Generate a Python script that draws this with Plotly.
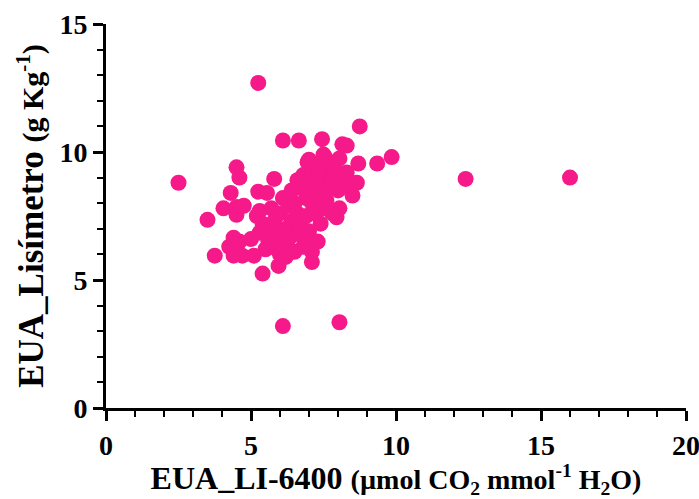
import plotly.graph_objects as go

# EUA_LI-6400 (x) vs EUA_Lisímetro (y)
eua_li6400 = [
    2.5, 3.5, 3.75, 4.25, 4.4, 4.4, 4.6, 4.05, 4.3, 4.5, 4.6, 4.5, 4.5, 4.75, 4.7,
    5.0, 5.1, 5.25, 5.3, 5.4, 5.55, 5.8, 5.95, 6.1, 8.05, 5.25, 6.1, 6.65, 7.45,
    8.15, 8.3, 8.75, 9.85, 9.35, 8.7, 8.65, 8.5, 8.05, 7.95, 7.4, 7.1, 7.1, 6.8,
    6.95, 7.55, 8.05, 6.6, 12.4, 16.0,
    5.2, 5.4, 5.5, 5.6, 5.7, 5.8, 5.9, 5.9, 6.0, 6.1, 6.1, 6.2, 6.3, 6.3, 6.4,
    6.4, 6.5, 6.5, 6.6, 6.6, 6.7, 6.7, 6.8, 6.8, 6.9, 6.9, 7.0, 7.0, 7.1, 7.1,
    7.2, 7.2, 7.3, 7.3, 7.4, 7.4, 7.5, 7.5, 7.6, 7.6, 7.7, 7.7, 7.8, 7.8, 7.9,
    8.0, 8.0, 8.2, 8.3, 6.0, 5.5, 5.3, 6.2, 6.9, 7.5, 7.0,
]
eua_lisimetro = [
    8.8, 7.35, 5.95, 6.3, 6.65, 5.95, 6.5, 7.8, 8.4, 9.4, 9.0, 7.85, 7.55, 7.9, 5.95,
    6.6, 5.95, 8.45, 6.85, 5.25, 8.4, 8.95, 5.55, 3.2, 3.35, 12.7, 10.45, 10.45, 10.5,
    10.3, 10.25, 11.0, 9.8, 9.55, 9.55, 8.8, 8.3, 7.8, 7.45, 7.2, 6.1, 5.7, 6.7,
    9.6, 9.8, 9.75, 8.9, 8.95, 9.0,
    7.5, 7.2, 6.9, 6.5, 7.8, 7.3, 6.2, 6.8, 7.6, 8.2, 6.4, 7.0, 7.9, 6.6, 8.5,
    7.3, 6.1, 8.0, 7.6, 6.8, 8.6, 7.1, 9.1, 6.3, 8.2, 7.5, 8.9, 6.9, 9.3, 8.0,
    7.6, 8.6, 9.0, 6.5, 8.3, 9.5, 7.8, 8.8, 9.2, 8.1, 8.6, 9.6, 8.9, 7.6, 9.3,
    8.5, 9.0, 8.7, 9.2, 6.0, 6.2, 7.7, 5.9, 6.4, 9.9, 9.7,
]

x_ticks = [0, 5, 10, 15, 20]
y_ticks = [0, 5, 10, 15]

FONT = "Liberation Serif"
PINK = "#F5198A"

fig = go.Figure()
fig.add_trace(go.Scatter(
    x=eua_li6400, y=eua_lisimetro, mode="markers",
    marker=dict(size=16, color=PINK, line=dict(width=0)),
    showlegend=False,
))

axis_common = dict(
    showgrid=False, zeroline=False, showline=True, linecolor="black", linewidth=3,
    ticks="outside", ticklen=10, tickwidth=3, tickcolor="black",
    tickfont=dict(family=FONT, size=28, color="black", weight="bold"),
    minor=dict(ticks="outside", ticklen=6, tickwidth=2, tickcolor="black", dtick=1),
    ticklabeloverflow="allow",
)

fig.update_xaxes(
    range=[0, 20], tickvals=x_ticks, ticktext=[str(v) for v in x_ticks],
    title=dict(
        text="EUA_LI-6400 <span style='font-size:28px'>(µmol CO<sub>2</sub> mmol<sup>-1</sup> H<sub>2</sub>O)</span>",
        font=dict(family=FONT, size=32, color="black", weight="bold"),
        standoff=0,
    ),
    **axis_common,
)
fig.update_yaxes(
    range=[0, 15], tickvals=y_ticks, ticktext=[str(v) for v in y_ticks],
    title=dict(
        text="EUA_Lisímetro <span style='font-size:30px'>(g Kg<sup>-1</sup>)</span>",
        font=dict(family=FONT, size=35, color="black", weight="bold"),
        standoff=6,
    ),
    **axis_common,
)

fig.update_layout(
    width=699, height=499,
    margin=dict(l=106, r=13, t=24, b=91, autoexpand=False),
    plot_bgcolor="white", paper_bgcolor="white",
)

fig.write_html(
    "out.html",
    config={"displayModeBar": False},
    post_script="document.body.style.margin='0';document.body.style.overflow='hidden';",
)
